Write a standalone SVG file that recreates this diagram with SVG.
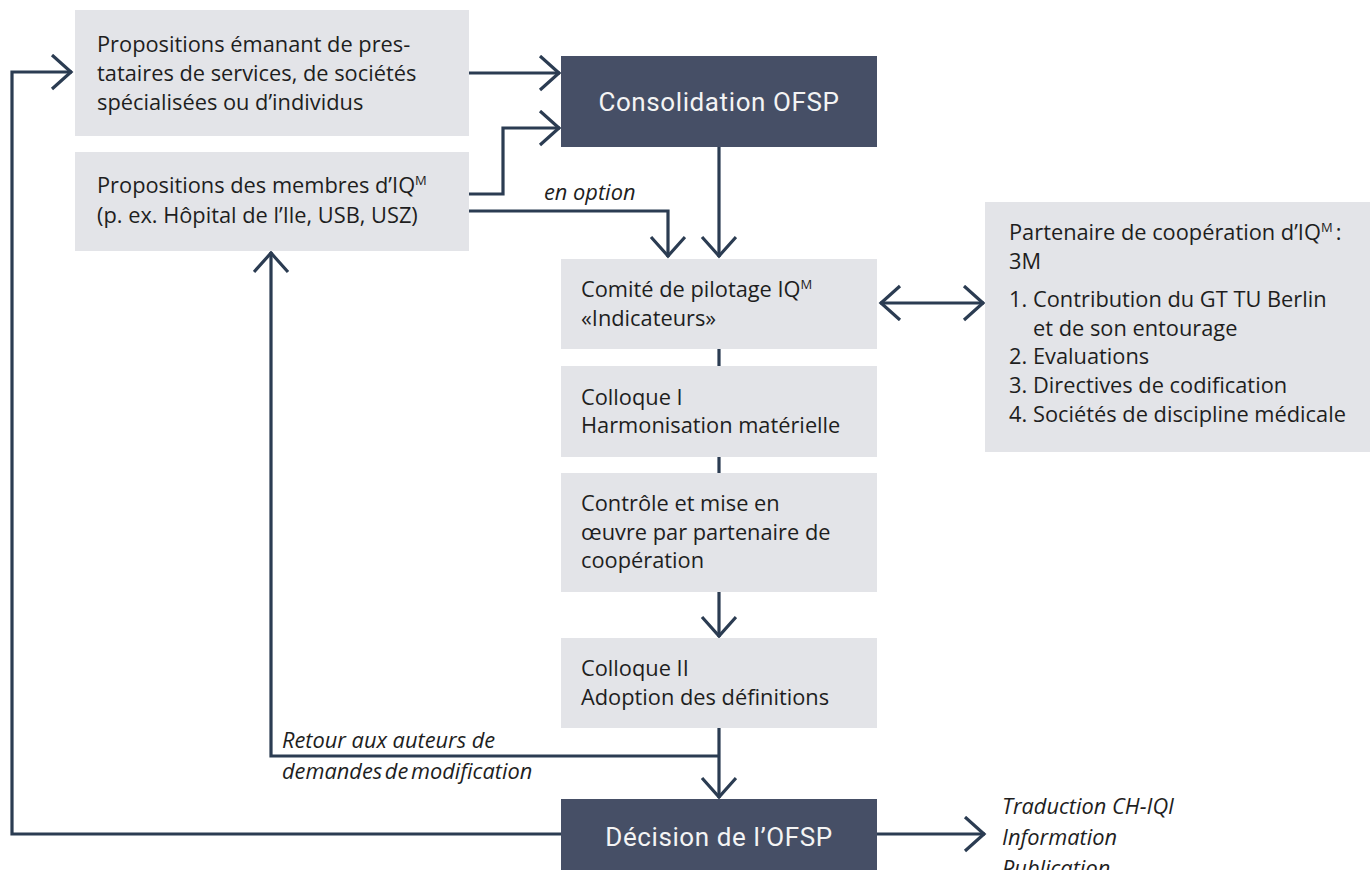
<svg xmlns="http://www.w3.org/2000/svg" width="1370" height="870" viewBox="0 0 1370 870">
<defs>
<style>
.box{fill:#e3e4e8}
.dark{fill:#464f66}
.t{font-family:"Open Sans","Noto Sans","Liberation Sans",sans-serif;font-size:21.8px;fill:#1e1e1e}
.i{font-family:"Open Sans","Noto Sans","Liberation Sans",sans-serif;font-size:21.8px;font-style:italic;fill:#1e1e1e}
.h{font-family:Roboto,"Liberation Sans",sans-serif;font-size:26px;fill:#f4f4f4;text-anchor:middle;letter-spacing:0.6px}
.sup{font-size:13px}
.c{fill:none;stroke:#2b3c52;stroke-width:3.2;stroke-linejoin:miter}
</style>
<marker id="ah" markerUnits="userSpaceOnUse" viewBox="0 0 30 40" markerWidth="30" markerHeight="40" refX="22" refY="18" orient="auto-start-reverse">
<path d="M2,1 L21,18 L2,35" fill="none" stroke="#2b3c52" stroke-width="3.2"/>
</marker>
</defs>
<rect width="1370" height="870" fill="#ffffff"/>

<g id="connectors">
<path class="c" d="M469,73 H560" marker-end="url(#ah)"/>
<path class="c" d="M469,194 H503 V128 H560" marker-end="url(#ah)"/>
<path class="c" d="M469,211 H668 V257" marker-end="url(#ah)"/>
<path class="c" d="M719,147 V257" marker-end="url(#ah)"/>
<path class="c" d="M880,303 H984" marker-start="url(#ah)" marker-end="url(#ah)"/>
<path class="c" d="M719,349 V366"/>
<path class="c" d="M719,457 V473"/>
<path class="c" d="M719,592 V637" marker-end="url(#ah)"/>
<path class="c" d="M719,728 V798" marker-end="url(#ah)"/>
<path class="c" d="M719,756 H271 V252" marker-end="url(#ah)"/>
<path class="c" d="M561,834 H12 V72 H72" marker-end="url(#ah)"/>
<path class="c" d="M877,834 H985" marker-end="url(#ah)"/>
<text class="i" x="544" y="200">en option</text>
<text class="i" x="282" y="748">Retour aux auteurs de</text>
<text class="i" x="282" y="779" word-spacing="-3">demandes de modification</text>
<text class="i" x="1002" y="814">Traduction CH-IQI</text>
<text class="i" x="1002" y="845">Information</text>
<text class="i" x="1002" y="876">Publication</text>
</g>

<g id="n-prestataires">
<rect class="box" x="75" y="10" width="394" height="126"/>
<text class="t" x="97" y="52">Propositions émanant de pres-</text>
<text class="t" x="97" y="81">tataires de services, de sociétés</text>
<text class="t" x="97" y="110">spécialisées ou d’individus</text>
</g>

<g id="n-membres">
<rect class="box" x="75" y="152" width="394" height="99"/>
<text class="t" x="97" y="193">Propositions des membres d’IQ<tspan class="sup" dy="-8">M</tspan></text>
<text class="t" x="97" y="223">(p. ex. Hôpital de l’Ile, USB, USZ)</text>
</g>

<g id="n-consolidation">
<rect class="dark" x="561" y="56" width="316" height="91"/>
<text class="h" x="719" y="111">Consolidation OFSP</text>
</g>

<g id="n-comite">
<rect class="box" x="561" y="259" width="316" height="90"/>
<text class="t" x="581" y="297">Comité de pilotage IQ<tspan class="sup" dy="-8">M</tspan></text>
<text class="t" x="581" y="326">«Indicateurs»</text>
</g>

<g id="n-partenaire">
<rect class="box" x="985" y="202" width="385" height="250"/>
<text class="t" x="1009" y="240">Partenaire de coopération d’IQ<tspan class="sup" dy="-8">M</tspan><tspan dy="8" dx="3">:</tspan></text>
<text class="t" x="1009" y="269">3M</text>
<text class="t" x="1009" y="307">1.</text><text class="t" x="1033" y="307">Contribution du GT TU Berlin</text>
<text class="t" x="1033" y="336">et de son entourage</text>
<text class="t" x="1009" y="364">2.</text><text class="t" x="1033" y="364">Evaluations</text>
<text class="t" x="1009" y="393">3.</text><text class="t" x="1033" y="393">Directives de codification</text>
<text class="t" x="1009" y="422">4.</text><text class="t" x="1033" y="422">Sociétés de discipline médicale</text>
</g>

<g id="n-colloque1">
<rect class="box" x="561" y="366" width="316" height="91"/>
<text class="t" x="581" y="405">Colloque I</text>
<text class="t" x="581" y="433">Harmonisation matérielle</text>
</g>

<g id="n-controle">
<rect class="box" x="561" y="473" width="316" height="119"/>
<text class="t" x="581" y="511">Contrôle et mise en</text>
<text class="t" x="581" y="540">œuvre par partenaire de</text>
<text class="t" x="581" y="568">coopération</text>
</g>

<g id="n-colloque2">
<rect class="box" x="561" y="638" width="316" height="90"/>
<text class="t" x="581" y="676">Colloque II</text>
<text class="t" x="581" y="705">Adoption des définitions</text>
</g>

<g id="n-decision">
<rect class="dark" x="561" y="799" width="316" height="71"/>
<text class="h" x="719" y="846">Décision de l’OFSP</text>
</g>
</svg>
